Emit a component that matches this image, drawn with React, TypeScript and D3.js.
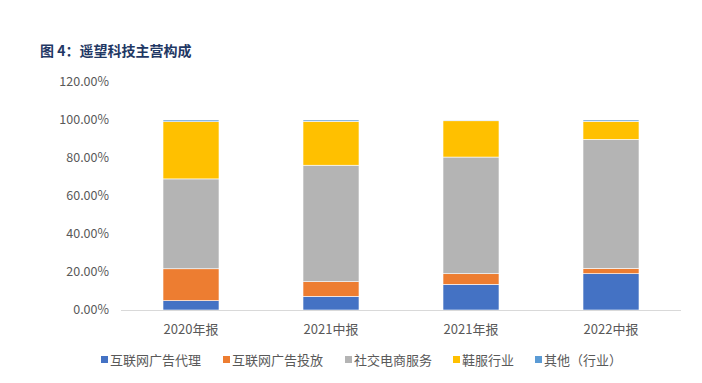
import React from "react";
import * as d3 from "d3";

const categories = ["2020年报", "2021中报", "2021年报", "2022中报"];
const seriesNames = ["互联网广告代理", "互联网广告投放", "社交电商服务", "鞋服行业", "其他（行业）"];
const adAgency = [4.9, 7.2, 13.5, 19.1];
const adPlacement = [16.8, 7.7, 5.6, 2.8];
const socialEcommerce = [47.3, 61.3, 61.4, 67.9];
const footwear = [30.1, 23.1, 19.1, 9.5];
const others = [0.9, 0.7, 0.4, 0.7];
const yTicks = [0, 20, 40, 60, 80, 100, 120];
const colors = ["#4472C4", "#ED7D31", "#B4B4B4", "#FFC000", "#5B9BD5"];

const W = 702;
const H = 383;
const left = 121;
const right = 681;
const top = 82;
const bottom = 310;

export default function App() {
  const x = d3.scaleBand().domain(categories).range([left, right]).paddingInner(0.6).paddingOuter(0.3);
  const y = d3.scaleLinear().domain([0, 120]).range([bottom, top]);
  const rows = categories.map((c, i) => ({
    cat: c,
    s0: adAgency[i],
    s1: adPlacement[i],
    s2: socialEcommerce[i],
    s3: footwear[i],
    s4: others[i],
  }));
  const stack = d3.stack<any>().keys(["s0", "s1", "s2", "s3", "s4"]);
  const layers = stack(rows);
  const font = "'Noto Sans CJK SC', 'Noto Sans', sans-serif";
  const legendX = [101, 223, 345, 453, 535];
  return (
    <svg width={W} height={H} style={{ position: "absolute", left: 0, top: 0, background: "#fff" }}>
      <text x={40} y={56} fontFamily={font} fontWeight="bold" fontSize={14} fill="#1F3864">
        图 4：遥望科技主营构成
      </text>
      {yTicks.map((t) => (
        <text key={t} x={109} y={y(t)} dy="0.35em" textAnchor="end" fontFamily={font} fontSize={12.5} fill="#595959">
          {t.toFixed(2)}%
        </text>
      ))}
      {layers.map((layer, li) => (
        <g key={li} fill={colors[li]}>
          {layer.map((d: any, i: number) => (
            <rect
              key={i}
              x={x(d.data.cat)!}
              width={x.bandwidth()}
              y={y(d[1])}
              height={y(d[0]) - y(d[1])}
              stroke="#fff"
              strokeWidth={0.6}
            />
          ))}
        </g>
      ))}
      <line x1={left} x2={right} y1={bottom + 0.5} y2={bottom + 0.5} stroke="#D9D9D9" strokeWidth={1} />
      {categories.map((c) => (
        <text key={c} x={x(c)! + x.bandwidth() / 2} y={329} dy="0.35em" textAnchor="middle" fontFamily={font} fontSize={13} fill="#595959">
          {c}
        </text>
      ))}
      {seriesNames.map((n, i) => (
        <g key={n}>
          <rect x={legendX[i]} y={356} width={7} height={7} fill={colors[i]} />
          <text x={legendX[i] + 9} y={360} dy="0.35em" fontFamily={font} fontSize={13} fill="#595959">
            {n}
          </text>
        </g>
      ))}
    </svg>
  );
}
